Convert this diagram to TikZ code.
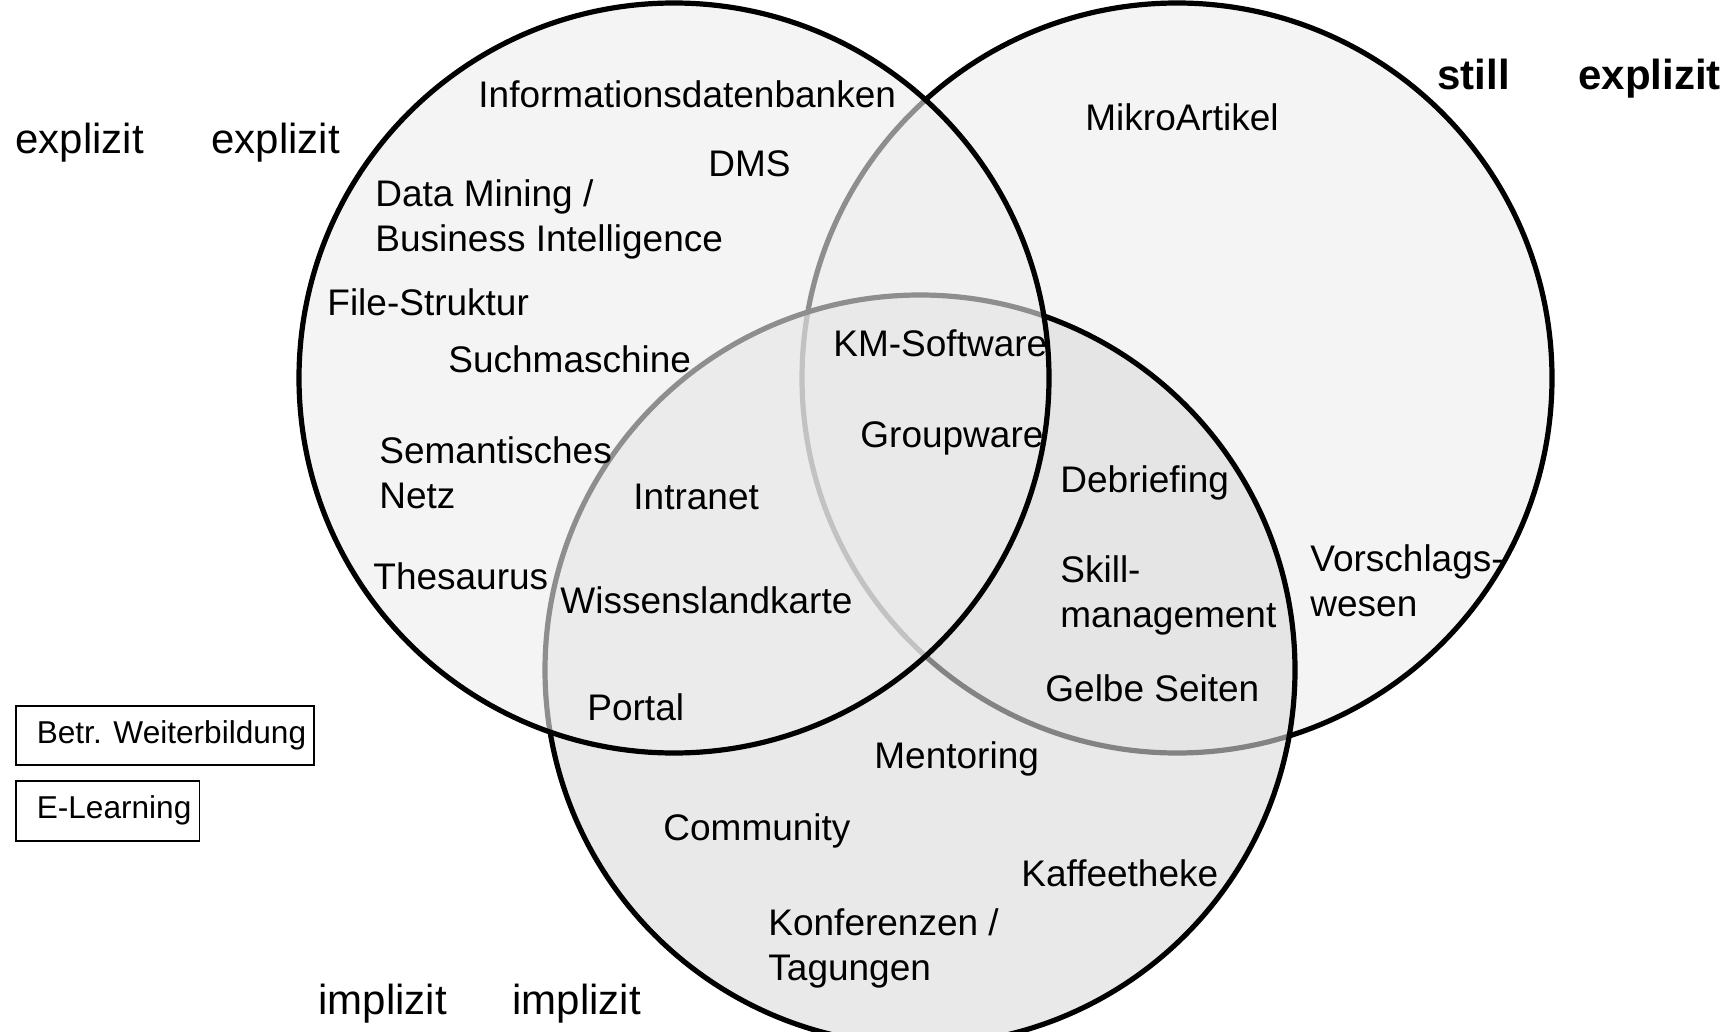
\documentclass[tikz,border=0pt]{standalone}
\usepackage{fontspec}
\setmainfont{Liberation Sans}

\begin{document}
\begin{tikzpicture}[x=0.5pt, y=-0.5pt,
    venn/.style={draw=black, line width=2.6pt, fill opacity=0.6},
    item/.style={anchor=base west, inner sep=0pt, align=left, font=\fontsize{18.5pt}{22.5pt}\selectfont},
    axis/.style={anchor=base west, inner sep=0pt, font=\fontsize{21pt}{25pt}\selectfont},
    legendbox/.style={draw, line width=0.8pt, anchor=north west, inner xsep=4pt, inner ysep=0pt, font=\fontsize{15.8pt}{19pt}\selectfont}]
    \useasboundingbox (0,0) rectangle (1735,1032);
    % the three sets, back to front
    \draw[venn, fill=black!7] (1177,378) circle[radius=187.5pt];
    \draw[venn, fill=black!14] (920,670) circle[radius=187.5pt];
    \draw[venn, fill=black!7] (674,378) circle[radius=187.5pt];

    % axis words
    \node[axis] (explizitA) at (15,154) {explizit};
    \node[axis] (explizitB) at (211,154) {explizit};
    \node[axis, font=\fontsize{21pt}{25pt}\selectfont\bfseries] (still) at (1437,90) {still};
    \node[axis, font=\fontsize{21pt}{25pt}\selectfont\bfseries] (explizitC) at (1578,90) {explizit};
    \node[axis] (implizitA) at (318,1014) {implizit};
    \node[axis] (implizitB) at (512,1014) {implizit};

    % left set (two-line nodes sit on their last line)
    \node[item] (infodb) at (478,108) {Informationsdatenbanken};
    \node[item] (dms) at (708,177) {DMS};
    \node[item] (mining) at (375,252) {Data Mining /\\Business Intelligence};
    \node[item] (files) at (327,315) {File-Struktur};
    \node[item] (search) at (448,372) {Suchmaschine};
    \node[item] (semnet) at (379,508) {Semantisches\\Netz};
    \node[item] (thes) at (373,589) {Thesaurus};
    \node[item] (intranet) at (633,509) {Intranet};
    \node[item] (map) at (560,613) {Wissenslandkarte};
    \node[item] (portal) at (587,720) {Portal};

    % middle
    \node[item] (kmsw) at (833,357) {KM-Software};
    \node[item] (groupware) at (860,447) {Groupware};
    \node[item] (debrief) at (1060,492) {Debriefing};
    \node[item] (skill) at (1060,627) {Skill-\\management};
    \node[item] (yellow) at (1045,701) {Gelbe Seiten};

    % right set
    \node[item] (micro) at (1085,131) {MikroArtikel};
    \node[item] (ideas) at (1310,616) {Vorschlags-\\wesen};

    % bottom set
    \node[item] (mentor) at (874,768) {Mentoring};
    \node[item] (community) at (663,840) {Community};
    \node[item] (coffee) at (1021,886) {Kaffeetheke};
    \node[item] (conf) at (768,980) {Konferenzen /\\Tagungen};

    % boxes
    \node[legendbox, minimum height=29.5pt] (training) at (15,705) {\hspace*{6.5pt}Betr. Weiterbildung};
    \node[legendbox, minimum height=30pt] (elearn) at (15,780) {\hspace*{6.5pt}E-Learning};
\end{tikzpicture}
\end{document}
